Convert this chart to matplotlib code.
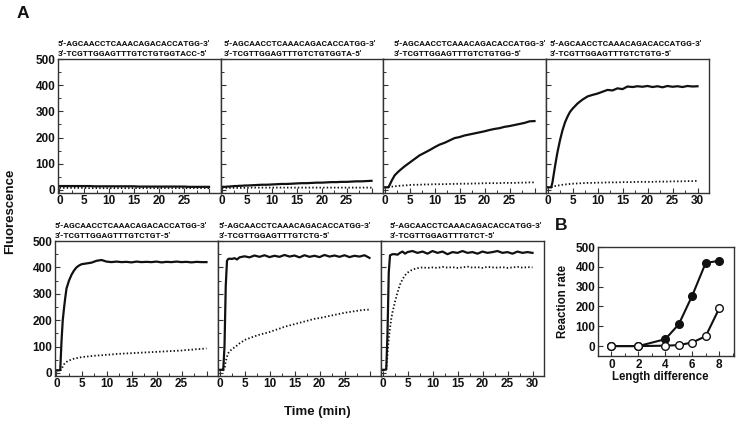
import matplotlib
matplotlib.use("Agg")
import matplotlib.pyplot as plt
from matplotlib.ticker import MultipleLocator

plt.rcParams['font.family'] = ['Liberation Sans', 'DejaVu Sans']
plt.rcParams['font.weight'] = 'bold'

# ---------------- data ----------------
TIME = [0, 0.5, 0.75, 1.0, 1.25, 1.5, 1.75, 2, 2.5, 3, 3.5, 4, 4.5, 5,
        6, 7, 8, 9, 10, 11, 12, 13, 14, 15, 16, 17, 18, 19, 20, 21, 22,
        23, 24, 25, 26, 27, 28, 29, 30]

TOP_STRAND = "5'-AGCAACCTCAAACAGACACCATGG-3'"
BOTTOM_STRANDS = [
    "3'-TCGTTGGAGTTTGTCTGTGGTACC-5'",
    "3'-TCGTTGGAGTTTGTCTGTGGTA-5'",
    "3'-TCGTTGGAGTTTGTCTGTGG-5'",
    "3'-TCGTTGGAGTTTGTCTGTG-5'",
    "3'-TCGTTGGAGTTTGTCTGT-5'",
    "3'-TCGTTGGAGTTTGTCTG-5'",
    "3'-TCGTTGGAGTTTGTCT-5'",
]

solid_1 = [15, 15, 15, 15, 15, 15, 15, 15, 15, 15, 15, 15, 15, 15, 15, 14, 14, 14, 14, 14,
           14, 14, 14, 14, 13, 13, 13, 13, 13, 13, 13, 13, 13, 13, 12, 12, 12, 12, 12]
dotted_1 = [8, 8, 8, 8, 8, 8, 8, 8, 8, 8, 8, 8, 8, 8, 7, 7, 7, 7, 7, 7,
            7, 7, 7, 7, 7, 7, 7, 7, 7, 7, 7, 7, 7, 7, 7, 7, 7, 7, 7]

solid_2 = [12, 12, 12, 13, 13, 13, 14, 14, 15, 15, 16, 16, 17, 17, 18, 19, 20, 20, 21, 22,
           23, 23, 24, 25, 26, 26, 27, 28, 28, 29, 30, 30, 31, 31, 32, 33, 33, 34, 35]
dotted_2 = [8, 8, 8, 8, 8, 8, 8, 8, 8, 8, 8, 8, 8, 8, 9, 9, 9, 9, 9, 9,
            9, 9, 9, 9, 9, 9, 9, 9, 9, 9, 9, 9, 9, 9, 9, 9, 9, 9, 9]

solid_3 = [10, 10, 10, 18, 28, 38, 46, 55, 65, 74, 82, 90, 97, 104, 118, 132, 142, 152, 163, 173,
           180, 189, 198, 202, 208, 212, 216, 220, 224, 229, 233, 236, 241, 244, 248, 252, 256, 262, 263]
dotted_3 = [10, 10, 10, 12, 12, 13, 13, 14, 15, 16, 17, 17, 18, 19, 20, 20, 21, 21, 22, 22,
            22, 23, 23, 24, 24, 24, 25, 25, 26, 26, 26, 26, 27, 27, 27, 28, 28, 29, 29]

solid_4 = [10, 10, 10, 30, 60, 90, 118, 145, 190, 228, 258, 280, 298, 310, 330, 345, 357, 363, 368, 375,
           382, 380, 388, 385, 395, 393, 396, 394, 397, 393, 396, 392, 397, 394, 396, 393, 397, 395, 396]
dotted_4 = [10, 10, 10, 12, 14, 15, 16, 17, 18, 20, 21, 22, 23, 24, 25, 26, 27, 27, 28, 28,
            29, 29, 29, 30, 30, 30, 31, 31, 31, 31, 32, 32, 32, 33, 33, 33, 34, 34, 35]

solid_5 = [10, 10, 12, 120, 200, 245, 285, 320, 350, 372, 388, 400, 407, 412, 415, 418, 425, 428, 422, 420,
           422, 420, 421, 419, 422, 420, 421, 420, 422, 419, 421, 420, 422, 420, 421, 419, 421, 420, 420]
dotted_5 = [10, 10, 10, 12, 25, 33, 38, 42, 47, 51, 54, 56, 58, 60, 62, 64, 66, 67, 69, 70,
            72, 73, 74, 75, 76, 77, 78, 79, 80, 81, 82, 83, 84, 85, 87, 88, 90, 91, 93]

solid_6 = [12, 12, 12, 100, 330, 425, 432, 433, 432, 435, 430, 438, 440, 442, 438, 445, 440, 446, 439, 444,
           440, 447, 441, 445, 438, 446, 440, 444, 439, 447, 441, 445, 440, 446, 439, 444, 441, 446, 436]
dotted_6 = [10, 10, 10, 15, 45, 62, 75, 82, 90, 97, 104, 112, 118, 125, 132, 139, 145, 150, 155, 162,
            168, 175, 180, 185, 190, 195, 200, 205, 208, 212, 216, 220, 224, 228, 231, 234, 237, 239, 240]

solid_7 = [12, 12, 15, 150, 380, 445, 448, 450, 450, 448, 455, 460, 452, 458, 462, 455, 460, 452, 462, 455,
           460, 450, 458, 455, 462, 455, 458, 452, 460, 455, 458, 462, 455, 458, 452, 460, 455, 458, 455]
dotted_7 = [10, 10, 12, 70, 130, 170, 205, 230, 270, 305, 335, 355, 370, 380, 392, 397, 400, 398, 400, 398,
            402, 399, 401, 398, 400, 403, 399, 401, 398, 402, 400, 399, 401, 398, 400, 402, 399, 401, 400]

SOLID = [solid_1, solid_2, solid_3, solid_4, solid_5, solid_6, solid_7]
DOTTED = [dotted_1, dotted_2, dotted_3, dotted_4, dotted_5, dotted_6, dotted_7]

LENGTH_DIFF = [0, 2, 4, 5, 6, 7, 8]
RATE_FILLED = [0, 0, 35, 110, 255, 420, 430]
RATE_OPEN = [0, 0, 2, 5, 18, 50, 190]

X_TICKS = [0, 5, 10, 15, 20, 25, 30]
Y_TICKS = [0, 100, 200, 300, 400, 500]
B_X_TICKS = [0, 2, 4, 6, 8]

# ---------------- layout ----------------
W, H = 739, 425
fig = plt.figure(figsize=(W / 100, H / 100), dpi=100)
INK = '#111111'
SEQ_FONT = ['Roboto', 'Liberation Sans', 'DejaVu Sans']


def px_axes(l, t, r, b):
    return fig.add_axes([l / W, 1 - b / H, (r - l) / W, (b - t) / H])


def style(ax):
    for s in ax.spines.values():
        s.set_linewidth(1.0)
        s.set_color('#333333')
    ax.tick_params(direction='in', which='major', length=3.5, width=0.8,
                   labelsize=8.5, pad=2, colors='#333333', labelcolor=INK)
    ax.tick_params(direction='in', which='minor', length=2, width=0.7, colors='#333333')
    for lab in ax.get_xticklabels() + ax.get_yticklabels():
        lab.set_fontweight('bold')


top_lefts = [58, 220.5, 383, 546, 709]
bot_lefts = [55, 218, 381, 544]
panels = []
for i in range(4):
    panels.append(px_axes(top_lefts[i], 59, top_lefts[i + 1], 192.6))
for i in range(3):
    panels.append(px_axes(bot_lefts[i], 241, bot_lefts[i + 1], 375.6))

text_offsets = [0, 3, 11, 4, 0, 1, 9]
last_in_row = [3, 6]
first_in_row = [0, 4]

for i, ax in enumerate(panels):
    ax.plot(TIME, SOLID[i], color=INK, lw=1.6, solid_joinstyle='round')
    ax.plot(TIME, DOTTED[i], color=INK, lw=1.3, linestyle=(0, (0.8, 1.2)))
    ax.set_xlim(-0.3, 32.3)
    ax.set_ylim(-10, 500)
    ax.set_xticks(X_TICKS)
    ax.xaxis.set_minor_locator(MultipleLocator(2.5))
    ax.set_yticks(Y_TICKS)
    ax.yaxis.set_minor_locator(MultipleLocator(50))
    if i in last_in_row:
        ax.set_xticklabels([str(v) for v in X_TICKS])
    else:
        ax.set_xticklabels([str(v) for v in X_TICKS[:-1]] + [''])
    if i not in first_in_row:
        ax.set_yticklabels([])
    style(ax)
    # sequence labels
    pos = ax.get_position()
    x0 = pos.x0 + text_offsets[i] / W
    ytop = pos.y1
    fig.text(x0, ytop + 16 / H, TOP_STRAND, fontsize=6.0, fontweight='bold',
             family=SEQ_FONT, va='center', ha='left', color=INK)
    fig.text(x0, ytop + 6 / H, BOTTOM_STRANDS[i], fontsize=6.0, fontweight='bold',
             family=SEQ_FONT, va='center', ha='left', color=INK)

# panel B
axb = px_axes(598, 247, 734, 356)
axb.plot(LENGTH_DIFF, RATE_FILLED, color=INK, lw=1.5, marker='o', markersize=5.5,
         markerfacecolor=INK, markeredgecolor=INK, zorder=3)
axb.plot(LENGTH_DIFF, RATE_OPEN, color=INK, lw=1.5, marker='o', markersize=5.5,
         markerfacecolor='white', markeredgecolor=INK, markeredgewidth=1.0, zorder=4)
axb.set_xlim(-1, 9.1)
axb.set_ylim(-50, 500)
axb.set_xticks(B_X_TICKS)
axb.xaxis.set_minor_locator(MultipleLocator(1))
axb.set_yticks(Y_TICKS)
style(axb)

# labels
fig.text(23 / W, 1 - 14 / H, 'A', fontsize=12.5, fontweight='bold', ha='center', va='center', color=INK)
fig.text(561.5 / W, 1 - 225 / H, 'B', fontsize=12.5, fontweight='bold', ha='center', va='center', color=INK)
fig.text(10 / W, 1 - 211.5 / H, 'Fluorescence', fontsize=9.5, fontweight='bold', rotation=90,
         ha='center', va='center', color=INK)
fig.text(317.5 / W, 1 - 412 / H, 'Time (min)', fontsize=9.5, fontweight='bold',
         ha='center', va='center', color=INK)
fig.text(563 / W, 1 - 301 / H, 'Reaction rate', fontsize=8.3, fontweight='bold', rotation=90,
         ha='center', va='center', color=INK)
fig.text(660.5 / W, 1 - 377 / H, 'Length difference', fontsize=8.3, fontweight='bold',
         ha='center', va='center', color=INK)

fig.savefig('out.png', dpi=100, facecolor='white')
